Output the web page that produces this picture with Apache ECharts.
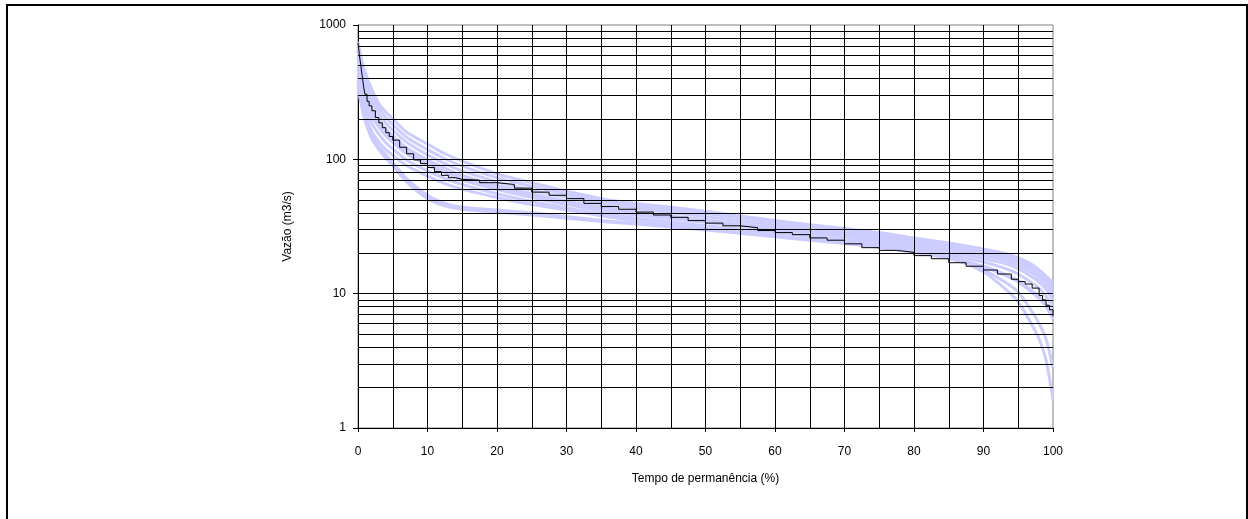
<!DOCTYPE html>
<html>
<head>
<meta charset="utf-8">
<script src="https://cdn.jsdelivr.net/npm/echarts@6/dist/echarts.min.js"></script>
<style>
  html, body { margin: 0; padding: 0; background: #fff; overflow: hidden; }
  #moldura { position: absolute; left: 6px; top: 4px; width: 1242px; height: 515px; box-sizing: border-box; border: 2px solid #000; border-bottom: none; }
  #c-permanencia { position: absolute; left: 0; top: 0; width: 1248px; height: 519px; }
</style>
</head>
<body>
<div id="moldura"></div>
<div id="c-permanencia"></div>
<script>
  // curvas de permanência - séries sintéticas (lilás) e série observada (preta)
  var permanencia = [0, 0.5, 1, 2, 3, 4, 5, 7, 10, 12.5, 15, 20, 25, 30, 35, 40, 50, 60, 70, 75, 80, 85, 90, 93, 95, 97, 98, 99, 100];

  var sintA = [750, 560, 450, 330, 260, 225, 200, 160, 130, 110, 97, 78, 67, 58, 51, 47, 41, 35, 30.5, 28.5, 26, 23.8, 21.5, 20, 18.5, 16.5, 15, 13.5, 12];
  var sintB = [700, 520, 410, 300, 240, 205, 182, 146, 118, 101, 89, 73, 63, 55, 49, 45, 39.5, 34, 29.5, 27.5, 25.2, 23, 20.8, 19.3, 17.8, 15.8, 14.5, 13, 11.3];
  var sintC = [640, 470, 370, 270, 218, 186, 165, 134, 108, 93, 82, 68, 59, 52, 46.5, 43, 37.5, 32.5, 28.5, 26.5, 24.3, 22.2, 20, 18.5, 17, 15, 13.7, 12.2, 10.5];
  var sintD = [580, 420, 330, 240, 196, 168, 150, 122, 99, 86, 76, 64, 55.5, 49, 44, 40.5, 35.5, 31, 27.5, 25.5, 23.4, 21.4, 19.2, 17.7, 16.2, 14.2, 13, 11.5, 9.8];
  var sintE = [520, 370, 290, 210, 174, 150, 134, 110, 90, 79, 70, 59.5, 52, 46, 41.5, 38.5, 34, 29.8, 26.5, 24.5, 22.5, 20.5, 18.3, 16.8, 15.3, 13.3, 12.2, 10.8, 9];
  var sintF = [460, 330, 255, 185, 154, 133, 120, 99, 82, 72, 65, 55.5, 48.5, 43.5, 39.5, 36.5, 32, 28.3, 25.2, 23.5, 21.5, 19.6, 17.2, 15.5, 14, 12, 11, 9.6, 8];
  var sintG = [400, 280, 220, 160, 135, 118, 107, 90, 75, 66, 60, 52, 46, 42, 38, 35, 30.5, 27, 24, 22.5, 20.5, 18.7, 16, 14, 12.5, 10.5, 9.5, 8.3, 7];
  var sintH = [370, 265, 205, 150, 125, 108, 95, 72, 54, 47, 44, 42, 40, 37.5, 35, 33.5, 30, 26.8, 23.8, 22.3, 20.5, 18.5, 15.8, 13.8, 12.2, 10.2, 9.2, 8, 6.5];
  var sintI = [350, 250, 195, 142, 118, 102, 90, 68, 51, 45, 42.5, 40.5, 38.5, 36.5, 34.5, 33, 29.8, 26.5, 23.6, 22.1, 20.3, 18.3, 15, 12.3, 10.3, 7.3, 6, 4.6, 2.8];
  var sintJ = [560, 400, 310, 225, 185, 158, 141, 115, 93, 81, 72, 61, 53.5, 47.5, 43, 39.5, 35, 30.5, 27, 25, 22, 19, 14.5, 11, 8.7, 5.8, 4.6, 3.2, 1.6];

  var observadoX = [0, 0.2, 0.4, 0.6, 0.8, 1, 1.3, 1.6, 2, 2.5, 3, 3.5, 4, 4.5, 5, 6, 7, 8, 9, 10, 11, 12, 13, 14, 15, 17.5, 20, 22.5, 25, 27.5, 30, 32.5, 35, 37.5, 40, 42.5, 45, 47.5, 50, 52.5, 55, 57.5, 60, 62.5, 65, 67.5, 70, 72.5, 75, 77.5, 80, 82.5, 85, 87.5, 90, 92, 94, 95, 96, 97, 98, 98.5, 99, 99.5, 100];
  var observado = [736, 600, 500, 420, 350, 305, 270, 250, 230, 205, 187, 172, 158, 148, 139, 123, 110, 99, 93, 87, 81, 76, 73, 71, 70, 67, 65, 61, 57, 54, 51, 47, 44.5, 42.5, 40.5, 38.5, 37, 35, 33.5, 32, 31, 29.5, 28.5, 27.5, 26, 25, 23.5, 22, 21, 20.3, 19.2, 18.2, 17, 16, 15, 14, 12.8, 12.3, 11.8, 11, 9.7, 9, 8.2, 7.6, 6.8];

  // linhas de grade (valores nos eixos)
  var gradeY = [2, 3, 4, 5, 6, 7, 8, 9, 10, 20, 30, 40, 50, 60, 70, 80, 90, 100, 200, 300, 400, 500, 600, 700, 800, 900];
  var gradeX = [5, 10, 15, 20, 25, 30, 35, 40, 45, 50, 55, 60, 65, 70, 75, 80, 85, 90, 95];

  var sinteticas = [sintA, sintB, sintC, sintD, sintE, sintF, sintG, sintH, sintI, sintJ];
  var lilas = '#CCCCFF';
  var fonte = 'Liberation Sans, Arial, sans-serif';

  function pares(xs, ys) {
    return xs.map(function (x, i) { return [x, ys[i]]; });
  }

  var chart = echarts.init(document.getElementById('c-permanencia'), null, { renderer: 'canvas' });

  var series = [];
  series.push({
    name: 'grade',
    type: 'line',
    data: [],
    silent: true,
    z: 1,
    markLine: {
      silent: true,
      symbol: ['none', 'none'],
      animation: false,
      label: { show: false },
      lineStyle: { color: '#000', width: 1, type: 'solid' },
      data: gradeY.map(function (v) { return { yAxis: v }; })
        .concat(gradeX.map(function (v) { return { xAxis: v }; }))
    }
  });
  sinteticas.forEach(function (s, i) {
    series.push({
      name: 'sint' + i,
      type: 'line',
      data: pares(permanencia, s),
      showSymbol: false,
      smooth: 0.3,
      lineStyle: { color: lilas, width: 3 },
      z: 2,
      silent: true
    });
  });
  series.push({
    name: 'observado',
    type: 'line',
    data: pares(observadoX, observado),
    showSymbol: false,
    step: 'end',
    lineStyle: { color: '#000', width: 1 },
    z: 3,
    silent: true
  });

  chart.setOption({
    animation: false,
    grid: { left: 358, right: 195, top: 25, bottom: 91, show: true, borderColor: '#808080', borderWidth: 1, backgroundColor: 'transparent' },
    xAxis: {
      type: 'value', min: 0, max: 100, interval: 10,
      name: 'Tempo de permanência (%)', nameLocation: 'middle', nameGap: 45,
      nameTextStyle: { color: '#000', fontSize: 12, fontFamily: fonte },
      axisLine: { show: true, lineStyle: { color: '#000', width: 1 } },
      axisTick: { show: true, length: 4, lineStyle: { color: '#000' } },
      axisLabel: { color: '#000', fontSize: 12, fontFamily: fonte, margin: 18 },
      splitLine: { show: false }
    },
    yAxis: {
      type: 'log', logBase: 10, min: 1, max: 1000,
      name: 'Vazão (m3/s)', nameLocation: 'middle', nameGap: 64,
      nameTextStyle: { color: '#000', fontSize: 12, fontFamily: fonte },
      axisLine: { show: true, lineStyle: { color: '#000', width: 1 } },
      axisTick: { show: true, length: 5, lineStyle: { color: '#000' } },
      axisLabel: {
        color: '#000', fontSize: 12, fontFamily: fonte, margin: 12,
        formatter: function (v) { return String(v); }
      },
      splitLine: { show: false }
    },
    series: series
  });

  window.onresize = function () { chart.resize(); };
</script>
</body>
</html>
